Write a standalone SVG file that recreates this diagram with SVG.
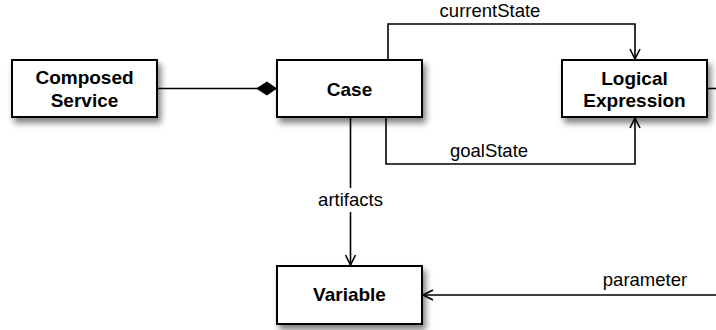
<svg xmlns="http://www.w3.org/2000/svg" width="716" height="330" viewBox="0 0 716 330">
<defs>
<filter id="sh" x="-20%" y="-20%" width="150%" height="160%">
<feDropShadow dx="3" dy="5" stdDeviation="3" flood-color="#000" flood-opacity="0.5"/>
</filter>
<marker id="open" viewBox="0 0 12 12" refX="11" refY="6" markerWidth="12" markerHeight="12" markerUnits="userSpaceOnUse" orient="auto">
<path d="M1,1 L11,6 L1,11" fill="none" stroke="#000" stroke-width="1.6"/>
</marker>
<marker id="dia" viewBox="0 0 22 16" refX="21" refY="8" markerWidth="22" markerHeight="16" markerUnits="userSpaceOnUse" orient="auto">
<path d="M0,8 L11,1 L21,8 L11,15 Z" fill="#000"/>
</marker>
</defs>
<style>
.box{fill:#fff;stroke:#000;stroke-width:2;filter:url(#sh)}
.t{font-family:"Liberation Sans",Arial,sans-serif;font-size:19px;font-weight:bold;text-anchor:middle;fill:#000}
.l{font-family:"Liberation Sans",Arial,sans-serif;font-size:18.5px;text-anchor:middle;fill:#000}
.c{fill:none;stroke:#000;stroke-width:1.6}
</style>
<g id="connectors">
<path class="c" d="M157,88.5 H277" marker-end="url(#dia)"/>
<path class="c" d="M388,60 V24 H635 V59" marker-end="url(#open)"/>
<path class="c" d="M386,117 V164 H635 V118" marker-end="url(#open)"/>
<path class="c" d="M707,88.5 H716"/>
<path class="c" d="M350.5,117 V188"/>
<path class="c" d="M350.5,212 V265" marker-end="url(#open)"/>
<path class="c" d="M716,295 H423" marker-end="url(#open)"/>
<text class="l" x="490" y="17">currentState</text>
<text class="l" x="489" y="157">goalState</text>
<text class="l" x="350.5" y="206">artifacts</text>
<text class="l" x="645" y="286">parameter</text>
</g>
<g id="composed-service">
<rect class="box" x="12" y="60" width="145" height="57"/>
<text class="t" x="84.5" y="84">Composed</text>
<text class="t" x="84.5" y="106.5">Service</text>
</g>
<g id="case">
<rect class="box" x="277" y="60" width="145" height="57"/>
<text class="t" x="349.5" y="95.5">Case</text>
</g>
<g id="logical-expression">
<rect class="box" x="562" y="60" width="145" height="57"/>
<text class="t" x="634.5" y="84.5">Logical</text>
<text class="t" x="634.5" y="106.5">Expression</text>
</g>
<g id="variable">
<rect class="box" x="277" y="266" width="145" height="58"/>
<text class="t" x="349.5" y="301">Variable</text>
</g>
</svg>
